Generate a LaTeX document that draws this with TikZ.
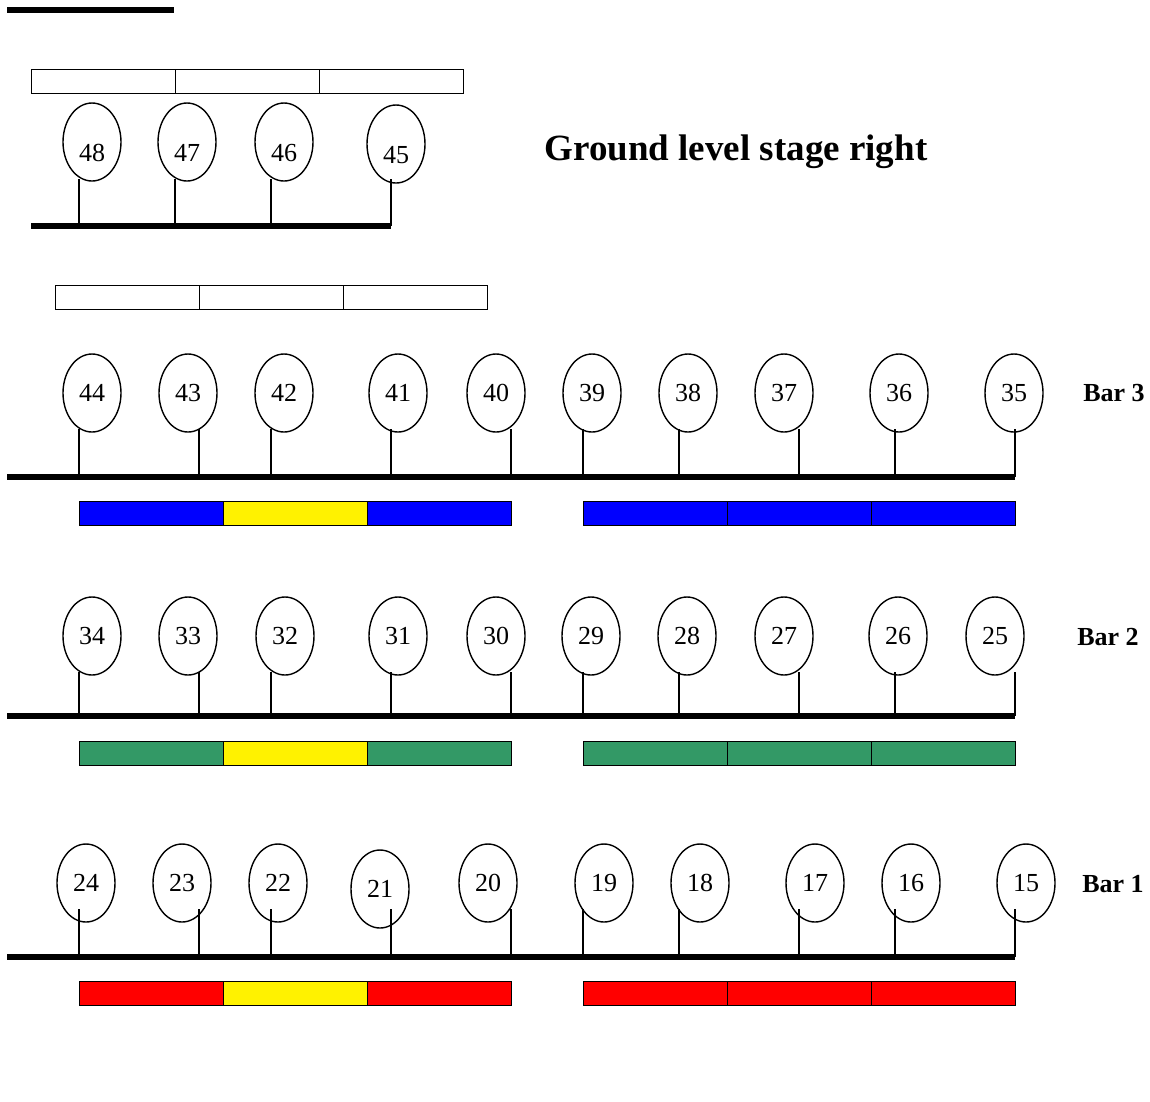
\documentclass[tikz,border=0pt]{standalone}
\usepackage{fontspec}
\setmainfont{Liberation Serif}
\usetikzlibrary{shapes.geometric}
\definecolor{bargreen}{RGB}{51,153,102}
\tikzset{
  lamp/.style={ellipse, draw, line width=1.4pt, minimum width=58pt, minimum height=78pt, inner sep=0pt, font=\fontsize{26}{26}\selectfont},
  groundlamp/.style={lamp, text height=38pt, text depth=0pt},
  stem/.style={line width=1.4pt},
  rail/.style={line width=6pt},
  gel/.style={rectangle, draw, line width=1pt, minimum width=144pt, minimum height=24pt, inner sep=0pt},
  barname/.style={font=\bfseries\fontsize{26}{26}\selectfont}
}

\begin{document}
\begin{tikzpicture}[x=1pt, y=-1pt]
            \useasboundingbox (0,0) rectangle (1150,1101);

            % ground level
            \draw[rail] (7,10) -- (174,10);
            \node[gel] at (103,81) (w1) {};
            \node[gel] at (247,81) (w2) {};
            \node[gel] at (391,81) (w3) {};
            \node[groundlamp] at (92,142)  (e48) {48};
            \node[groundlamp] at (187,142) (e47) {47};
            \node[groundlamp] at (284,142) (e46) {46};
            \node[groundlamp] at (396,144) (e45) {45};
            \node[font=\bfseries\fontsize{37}{37}\selectfont] at (736,152) (title) {Ground level stage right};
            \coordinate (g0) at (31,226);
            \coordinate (s48) at (79,226);
            \coordinate (s47) at (175,226);
            \coordinate (s46) at (271,226);
            \coordinate (s45) at (391,226);
            \draw[rail] (g0) -- (s45);
            \draw[stem] (s48) -- ([yshift=3pt]s48 |- e48.south);
            \draw[stem] (s47) -- ([yshift=3pt]s47 |- e47.south);
            \draw[stem] (s46) -- ([yshift=3pt]s46 |- e46.south);
            \draw[stem] (s45) -- ([yshift=5pt]s45 |- e45.south);

            % bar 3
            \node[gel] at (127,297.5) (w4) {};
            \node[gel] at (271,297.5) (w5) {};
            \node[gel] at (415,297.5) (w6) {};
            \node[lamp] at (92,393)   (e44) {44};
            \node[lamp] at (188,393)  (e43) {43};
            \node[lamp] at (284,393)  (e42) {42};
            \node[lamp] at (398,393)  (e41) {41};
            \node[lamp] at (496,393)  (e40) {40};
            \node[lamp] at (592,393)  (e39) {39};
            \node[lamp] at (688,393)  (e38) {38};
            \node[lamp] at (784,393)  (e37) {37};
            \node[lamp] at (899,393)  (e36) {36};
            \node[lamp] at (1014,393) (e35) {35};
            \node[barname] at (1114,393) (bar3) {Bar 3};
            \coordinate (r3) at (7,477);
            \coordinate (s44) at (79,477);
            \coordinate (s43) at (199,477);
            \coordinate (s42) at (271,477);
            \coordinate (s41) at (391,477);
            \coordinate (s40) at (511,477);
            \coordinate (s39) at (583,477);
            \coordinate (s38) at (679,477);
            \coordinate (s37) at (799,477);
            \coordinate (s36) at (895,477);
            \coordinate (s35) at (1015,477);
            \draw[rail] (r3) -- (s35);
            \draw[stem] (s44) -- ([yshift=4pt]s44 |- e44.south);
            \draw[stem] (s43) -- ([yshift=4pt]s43 |- e43.south);
            \draw[stem] (s42) -- ([yshift=4pt]s42 |- e42.south);
            \draw[stem] (s41) -- ([yshift=4pt]s41 |- e41.south);
            \draw[stem] (s40) -- ([yshift=4pt]s40 |- e40.south);
            \draw[stem] (s39) -- ([yshift=4pt]s39 |- e39.south);
            \draw[stem] (s38) -- ([yshift=4pt]s38 |- e38.south);
            \draw[stem] (s37) -- ([yshift=4pt]s37 |- e37.south);
            \draw[stem] (s36) -- ([yshift=4pt]s36 |- e36.south);
            \draw[stem] (s35) -- ([yshift=4pt]s35 |- e35.south);
            \node[gel, fill=blue]   at (151,513) (b3a) {};
            \node[gel, fill=yellow] at (295,513) (b3b) {};
            \node[gel, fill=blue]   at (439,513) (b3c) {};
            \node[gel, fill=blue]   at (655,513) (b3d) {};
            \node[gel, fill=blue]   at (799,513) (b3e) {};
            \node[gel, fill=blue]   at (943,513) (b3f) {};

            % bar 2
            \node[lamp] at (92,636)   (e34) {34};
            \node[lamp] at (188,636)  (e33) {33};
            \node[lamp] at (285,636)  (e32) {32};
            \node[lamp] at (398,636)  (e31) {31};
            \node[lamp] at (496,636)  (e30) {30};
            \node[lamp] at (591,636)  (e29) {29};
            \node[lamp] at (687,636)  (e28) {28};
            \node[lamp] at (784,636)  (e27) {27};
            \node[lamp] at (898,636)  (e26) {26};
            \node[lamp] at (995,636)  (e25) {25};
            \node[barname] at (1108,637) (bar2) {Bar 2};
            \coordinate (r2) at (7,716);
            \coordinate (s34) at (79,716);
            \coordinate (s33) at (199,716);
            \coordinate (s32) at (271,716);
            \coordinate (s31) at (391,716);
            \coordinate (s30) at (511,716);
            \coordinate (s29) at (583,716);
            \coordinate (s28) at (679,716);
            \coordinate (s27) at (799,716);
            \coordinate (s26) at (895,716);
            \coordinate (s25) at (1015,716);
            \draw[rail] (r2) -- (s25);
            \draw[stem] (s34) -- ([yshift=4pt]s34 |- e34.south);
            \draw[stem] (s33) -- ([yshift=4pt]s33 |- e33.south);
            \draw[stem] (s32) -- ([yshift=4pt]s32 |- e32.south);
            \draw[stem] (s31) -- ([yshift=4pt]s31 |- e31.south);
            \draw[stem] (s30) -- ([yshift=4pt]s30 |- e30.south);
            \draw[stem] (s29) -- ([yshift=4pt]s29 |- e29.south);
            \draw[stem] (s28) -- ([yshift=4pt]s28 |- e28.south);
            \draw[stem] (s27) -- ([yshift=4pt]s27 |- e27.south);
            \draw[stem] (s26) -- ([yshift=4pt]s26 |- e26.south);
            \draw[stem] (s25) -- ([yshift=4pt]s25 |- e25.south);
            \node[gel, fill=bargreen] at (151,753) (b2a) {};
            \node[gel, fill=yellow]   at (295,753) (b2b) {};
            \node[gel, fill=bargreen] at (439,753) (b2c) {};
            \node[gel, fill=bargreen] at (655,753) (b2d) {};
            \node[gel, fill=bargreen] at (799,753) (b2e) {};
            \node[gel, fill=bargreen] at (943,753) (b2f) {};

            % bar 1
            \node[lamp] at (86,883)   (e24) {24};
            \node[lamp] at (182,883)  (e23) {23};
            \node[lamp] at (278,883)  (e22) {22};
            \node[lamp] at (380,889)  (e21) {21};
            \node[lamp] at (488,883)  (e20) {20};
            \node[lamp] at (604,883)  (e19) {19};
            \node[lamp] at (700,883)  (e18) {18};
            \node[lamp] at (815,883)  (e17) {17};
            \node[lamp] at (911,883)  (e16) {16};
            \node[lamp] at (1026,883) (e15) {15};
            \node[barname] at (1113,884) (bar1) {Bar 1};
            \coordinate (r1) at (7,957);
            \coordinate (s24) at (79,957);
            \coordinate (s23) at (199,957);
            \coordinate (s22) at (271,957);
            \coordinate (s21) at (391,957);
            \coordinate (s20) at (511,957);
            \coordinate (s19) at (583,957);
            \coordinate (s18) at (679,957);
            \coordinate (s17) at (799,957);
            \coordinate (s16) at (895,957);
            \coordinate (s15) at (1015,957);
            \draw[rail] (r1) -- (s15);
            \draw[stem] (s24) -- ([yshift=14pt]s24 |- e24.south);
            \draw[stem] (s23) -- ([yshift=14pt]s23 |- e23.south);
            \draw[stem] (s22) -- ([yshift=14pt]s22 |- e22.south);
            \draw[stem] (s21) -- ([yshift=20pt]s21 |- e21.south);
            \draw[stem] (s20) -- ([yshift=14pt]s20 |- e20.south);
            \draw[stem] (s19) -- ([yshift=14pt]s19 |- e19.south);
            \draw[stem] (s18) -- ([yshift=14pt]s18 |- e18.south);
            \draw[stem] (s17) -- ([yshift=14pt]s17 |- e17.south);
            \draw[stem] (s16) -- ([yshift=14pt]s16 |- e16.south);
            \draw[stem] (s15) -- ([yshift=14pt]s15 |- e15.south);
            \node[gel, fill=red]    at (151,993) (b1a) {};
            \node[gel, fill=yellow] at (295,993) (b1b) {};
            \node[gel, fill=red]    at (439,993) (b1c) {};
            \node[gel, fill=red]    at (655,993) (b1d) {};
            \node[gel, fill=red]    at (799,993) (b1e) {};
            \node[gel, fill=red]    at (943,993) (b1f) {};
        \end{tikzpicture}
\end{document}
